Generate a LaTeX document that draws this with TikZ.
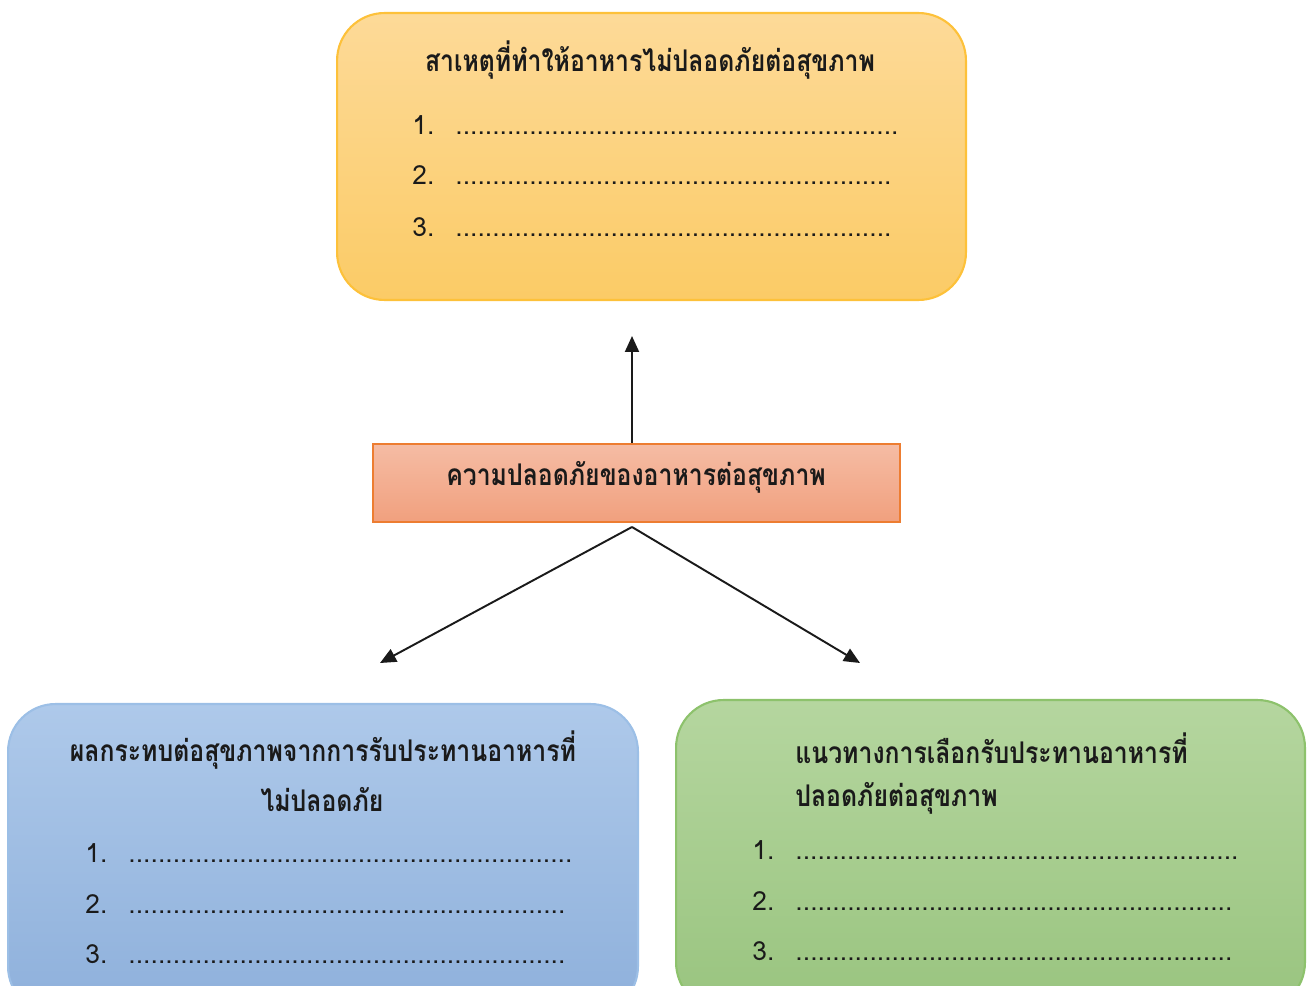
\documentclass[tikz,border=0pt]{standalone}
\usepackage{fontspec}
\usepackage{xcolor}
\newfontfamily\thaifont[Script=Thai]{Loma}
\newfontfamily\thaihead[Script=Thai,FakeStretch=0.83]{Loma Bold}
\usetikzlibrary{arrows.meta}
\definecolor{Ink}{HTML}{1A1A1A}
\definecolor{GoldTop}{HTML}{FDDA98}
\definecolor{GoldBot}{HTML}{FBCB66}
\definecolor{GoldLine}{HTML}{FDC13A}
\definecolor{SalmonTop}{HTML}{F5BCA4}
\definecolor{SalmonBot}{HTML}{F1A07E}
\definecolor{SalmonLine}{HTML}{ED7D31}
\definecolor{BlueTop}{HTML}{AEC9EA}
\definecolor{BlueBot}{HTML}{8EB0DB}
\definecolor{BlueLine}{HTML}{9CBFE6}
\definecolor{GreenTop}{HTML}{B5D69F}
\definecolor{GreenBot}{HTML}{99C47F}
\definecolor{GreenLine}{HTML}{8DC26C}
\newcommand{\dotrow}[1]{\hbox to #1{\xleaders\hbox{.}\hfil}}
\tikzset{
  box/.style={rounded corners=0.95cm, line width=1.2pt, inner sep=0pt},
  head/.style={font=\thaihead\fontsize{17}{20}\selectfont, text=Ink, inner sep=0pt},
  item/.style={font=\thaifont\fontsize{15}{18}\selectfont, text=Ink, inner sep=0pt, anchor=base west},
  arr/.style={Ink, line width=1.1pt, -{Triangle[length=3.2mm,width=2.8mm]}}
}

\begin{document}
\begin{tikzpicture}[x=0.02cm, y=-0.02cm]
  \useasboundingbox (0,0) rectangle (1307,986);
  \clip (0,0) rectangle (1307,986);
  % boxes
  \node[box, draw=GoldLine, top color=GoldTop, bottom color=GoldBot, minimum width=12.58cm, minimum height=5.74cm] (cause) at (651.5,156.5) {};
  \node[draw=SalmonLine, line width=1.2pt, top color=SalmonTop, bottom color=SalmonBot, minimum width=10.54cm, minimum height=1.56cm, inner sep=0pt] (safe) at (636.5,483) {};
  \node[box, draw=BlueLine, top color=BlueTop, bottom color=BlueBot, minimum width=12.6cm, minimum height=6.2cm] (effect) at (323,859) {};
  \node[box, draw=GreenLine, top color=GreenTop, bottom color=GreenBot, minimum width=12.58cm, minimum height=6.2cm] (guide) at (990.5,855) {};

  % titles
  \node[head] (cause-title) at (650,60) {สาเหตุที่ทำให้อาหารไม่ปลอดภัยต่อสุขภาพ};
  \node[head] (safe-title) at (636,477) {ความปลอดภัยของอาหารต่อสุขภาพ};
  \node[head] (effect-title) at (323,750) {ผลกระทบต่อสุขภาพจากการรับประทานอาหารที่};
  \node[head] (effect-title2) at (322,800) {ไม่ปลอดภัย};
  \node[head, anchor=west] (guide-title) at (795,748) {แนวทางการเลือกรับประทานอาหารที่};
  \node[head, anchor=west] (guide-title2) at (795,798) {ปลอดภัยต่อสุขภาพ};

  % blank rows
  \foreach \n/\yy/\w in {1/135/8.86cm, 2/185/8.72cm, 3/237/8.72cm}{
    \node[item] (cause-\n) at (412,\yy) {\n.};
    \node[item] (cause-dots-\n) at (455,\yy) {\dotrow{\w}};
  }
  \foreach \n/\yy/\w in {1/862/8.88cm, 2/913/8.74cm, 3/963/8.74cm}{
    \node[item] (effect-\n) at (85,\yy) {\n.};
    \node[item] (effect-dots-\n) at (128,\yy) {\dotrow{\w}};
  }
  \foreach \n/\yy/\w in {1/859/8.86cm, 2/910/8.74cm, 3/960/8.74cm}{
    \node[item] (guide-\n) at (752,\yy) {\n.};
    \node[item] (guide-dots-\n) at (795,\yy) {\dotrow{\w}};
  }

  % arrows
  \coordinate (up-end) at (632,336);
  \coordinate (fork) at (632,527);
  \coordinate (left-end) at (380,663);
  \coordinate (right-end) at (860,663);
  \draw[arr] (up-end |- safe.north) -- (up-end);
  \draw[arr] (fork) -- (left-end);
  \draw[arr] (fork) -- (right-end);
\end{tikzpicture}
\end{document}
